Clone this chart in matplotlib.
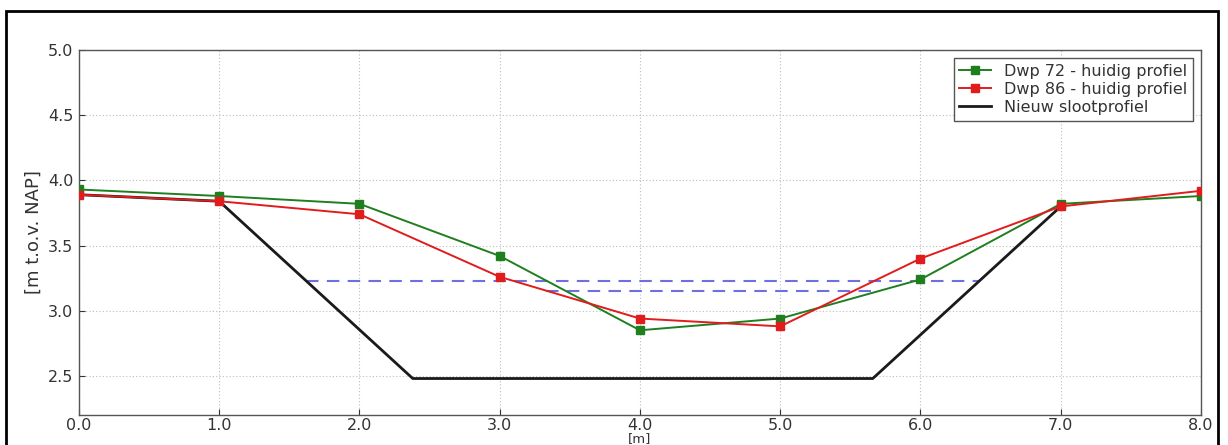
import matplotlib
matplotlib.use("Agg")
import matplotlib.pyplot as plt
from matplotlib.patches import Rectangle
from matplotlib.ticker import FormatStrFormatter

# measured profile points [m] vs height [m t.o.v. NAP]
xPoints = [0, 1, 2, 3, 4, 5, 6, 7, 8]
dwp72 = [3.93, 3.88, 3.82, 3.42, 2.85, 2.94, 3.24, 3.82, 3.88]
dwp86 = [3.89, 3.84, 3.74, 3.26, 2.94, 2.88, 3.40, 3.80, 3.92]

# new ditch profile
newX = [0, 1, 2.38, 5.66, 7]
newY = [3.89, 3.84, 2.48, 2.48, 3.80]

# water levels (dashed)
levelNewX = [1.62, 6.42]
levelNewY = [3.23, 3.23]
levelOldX = [3.33, 5.70]
levelOldY = [3.15, 3.15]

labels = ["Dwp 72 - huidig profiel", "Dwp 86 - huidig profiel", "Nieuw slootprofiel"]


def main():
	fig = plt.figure(figsize=(12.28, 4.45), dpi=100)
	ax = fig.add_axes([0.0643, 0.0674, 0.9137, 0.8202])

	ax.plot(xPoints, dwp72, color="#1f7f1f", marker="s", markersize=6,
		markeredgecolor="#1f7f1f", linewidth=1.4, label=labels[0], zorder=4)
	ax.plot(xPoints, dwp86, color="#e01c1c", marker="s", markersize=6,
		markeredgecolor="#e01c1c", linewidth=1.4, label=labels[1], zorder=4)
	ax.plot(newX, newY, color="#1a1a1a", linewidth=2.0, label=labels[2], zorder=3)

	ax.plot(levelNewX, levelNewY, color="#6f6fdf", linestyle="--", linewidth=1.5,
		dashes=(6, 4), zorder=2)
	ax.plot(levelOldX, levelOldY, color="#6f6fdf", linestyle="--", linewidth=1.5,
		dashes=(6, 4), zorder=2)

	ax.set_xlim(0, 8)
	ax.set_ylim(2.2, 5.0)
	ax.set_xticks(xPoints)
	ax.set_yticks([2.5, 3.0, 3.5, 4.0, 4.5, 5.0])
	ax.xaxis.set_major_formatter(FormatStrFormatter("%.1f"))
	ax.yaxis.set_major_formatter(FormatStrFormatter("%.1f"))
	ax.tick_params(direction="in", length=4, labelsize=11.5, colors="#333333",
		labelcolor="#333333", pad=4)
	ax.tick_params(axis="x", pad=2.5)
	ax.grid(True, linestyle=(0, (1, 2)), color="#bdbdbd", linewidth=0.8)
	for spine in ax.spines.values():
		spine.set_color("#555555")
		spine.set_linewidth(1.0)

	ax.set_xlabel("[m]", fontsize=9.5, color="#333333")
	ax.xaxis.set_label_coords(0.5, -0.048)
	ax.set_ylabel("[m t.o.v. NAP]", fontsize=13, color="#333333", labelpad=4)

	leg = ax.legend(loc="upper right", fontsize=11.5, handlelength=2.0,
		borderaxespad=0.5, fancybox=False, framealpha=1.0, borderpad=0.35,
		labelspacing=0.2, handletextpad=0.8)
	leg.get_frame().set_edgecolor("#555555")
	leg.get_frame().set_linewidth(1.0)
	for t in leg.get_texts():
		t.set_color("#333333")

	# page frame around the figure
	fig.patches.append(Rectangle((6 / 1228, -0.05), 1212 / 1228, 1.05 - 11 / 445,
		transform=fig.transFigure, fill=False, edgecolor="black", linewidth=2.0))

	fig.savefig("out.png", dpi=100)
	return 0


if __name__ == '__main__':
	import sys
	sys.exit(main())
